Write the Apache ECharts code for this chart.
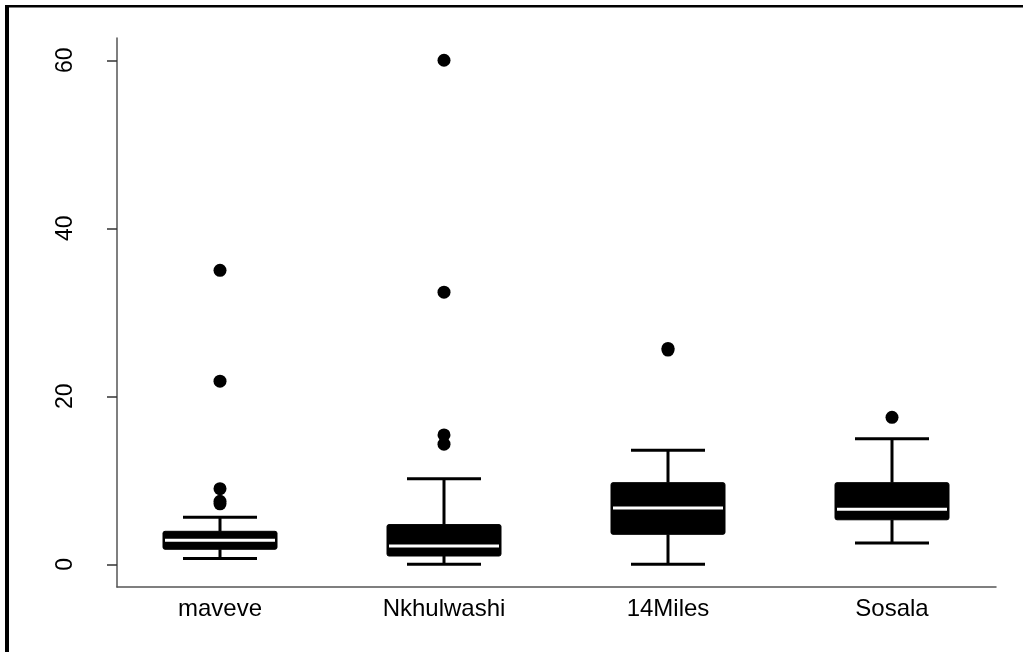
<!DOCTYPE html>
<html>
<head>
<meta charset="utf-8">
<script src="https://cdn.jsdelivr.net/npm/echarts@6/dist/echarts.min.js"></script>
<style>
html,body{margin:0;padding:0;background:#fff;}
#chart{width:1023px;height:652px;}
</style>
</head>
<body>
<div id="chart"></div>
<script>
const categories = ['maveve', 'Nkhulwashi', '14Miles', 'Sosala'];
const lowerWhisker = [0.68, 0.0, 0.0, 2.54];
const q1 = [1.79, 0.99, 3.57, 5.3];
const median = [2.86, 2.18, 6.71, 6.55];
const q3 = [3.93, 4.73, 9.72, 9.72];
const upperWhisker = [5.6, 10.2, 13.57, 14.96];
const outliers = [
  [35.0, 21.8, 9.0, 7.2, 7.5],
  [60.0, 32.4, 15.4, 14.3],
  [25.5, 25.7],
  [17.5]
];
const yTicks = [0, 20, 40, 60];
const yMin = -2.7, yMax = 62.65;

const boxData = categories.map((c, i) => [i, lowerWhisker[i], q1[i], median[i], q3[i], upperWhisker[i]]);
const outlierData = [];
outliers.forEach((arr, i) => arr.forEach(v => outlierData.push([i, v])));

const FONT = 'Liberation Sans, Arial, sans-serif';
const BOX_W = 114, CAP_W = 74;

const chart = echarts.init(document.getElementById('chart'));
chart.setOption({
  animation: false,
  backgroundColor: '#fff',
  grid: [
    { left: 108, width: 896, top: 38, bottom: 65 },
    { left: 117, right: 27, top: 38, bottom: 65 }
  ],
  xAxis: [
    {
      gridIndex: 0, type: 'category', data: categories,
      axisLine: { show: false }, axisTick: { show: false }, splitLine: { show: false },
      axisLabel: { fontFamily: FONT, fontSize: 24, color: '#000', margin: 10 }
    },
    {
      gridIndex: 1, type: 'value', min: 0, max: 1,
      axisLine: { show: true, onZero: false, lineStyle: { color: '#555', width: 1.5 } },
      axisTick: { show: false }, axisLabel: { show: false }, splitLine: { show: false }
    }
  ],
  yAxis: [
    { gridIndex: 0, type: 'value', min: yMin, max: yMax, show: false, splitLine: { show: false } },
    {
      gridIndex: 1, type: 'value', min: yMin, max: yMax,
      axisLine: { show: true, onZero: false, lineStyle: { color: '#555', width: 1.5 } },
      axisTick: { show: true, length: 10, customValues: yTicks, lineStyle: { color: '#333', width: 1.5 } },
      axisLabel: { customValues: yTicks, rotate: 90, fontFamily: FONT, fontSize: 23, color: '#000', margin: 40 },
      splitLine: { show: false }
    }
  ],
  series: [
    {
      type: 'custom', xAxisIndex: 0, yAxisIndex: 0, data: boxData,
      renderItem: function (params, api) {
        const i = api.value(0);
        const lo = api.coord([i, api.value(1)]);
        const a = api.coord([i, api.value(2)]);
        const m = api.coord([i, api.value(3)]);
        const b = api.coord([i, api.value(4)]);
        const hi = api.coord([i, api.value(5)]);
        const x = lo[0];
        const ls = { stroke: '#000', lineWidth: 3 };
        return {
          type: 'group',
          children: [
            { type: 'line', shape: { x1: x, y1: lo[1], x2: x, y2: a[1] }, style: ls },
            { type: 'line', shape: { x1: x, y1: b[1], x2: x, y2: hi[1] }, style: ls },
            { type: 'line', shape: { x1: x - CAP_W / 2, y1: lo[1], x2: x + CAP_W / 2, y2: lo[1] }, style: ls },
            { type: 'line', shape: { x1: x - CAP_W / 2, y1: hi[1], x2: x + CAP_W / 2, y2: hi[1] }, style: ls },
            { type: 'rect', shape: { x: x - BOX_W / 2, y: b[1], width: BOX_W, height: a[1] - b[1], r: 2 }, style: { fill: '#000', stroke: '#000', lineWidth: 1 } },
            { type: 'line', shape: { x1: x - BOX_W / 2 + 2, y1: m[1], x2: x + BOX_W / 2 - 2, y2: m[1] }, style: { stroke: '#fff', lineWidth: 3 } }
          ]
        };
      }
    },
    {
      type: 'scatter', xAxisIndex: 0, yAxisIndex: 0, data: outlierData,
      symbol: 'circle', symbolSize: 13, itemStyle: { color: '#000', opacity: 1 }
    }
  ],
  graphic: [
    { type: 'rect', shape: { x: 5, y: 5, width: 4, height: 647 }, style: { fill: '#000' } },
    { type: 'rect', shape: { x: 5, y: 5, width: 1018, height: 2.5 }, style: { fill: '#000' } }
  ]
});
</script>
</body>
</html>
